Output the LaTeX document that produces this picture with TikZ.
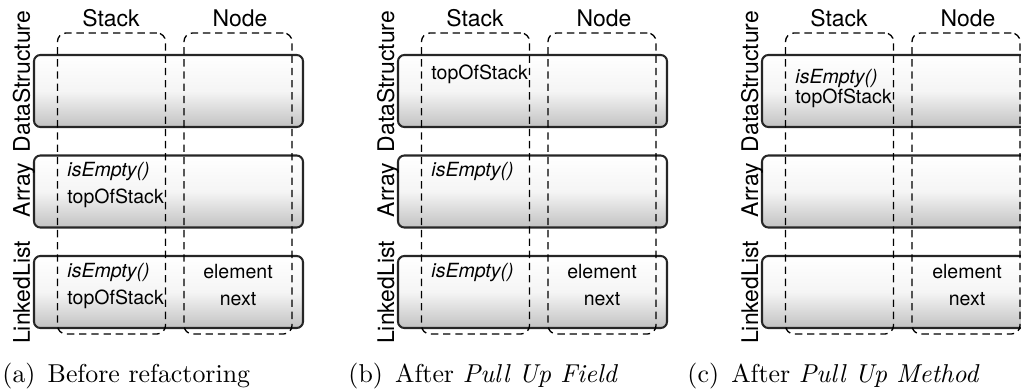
\documentclass[tikz,border=0pt]{standalone}
\usepackage{fontspec}
\newfontfamily\heros{TeX Gyre Heros}
\newcommand{\unitpx}{0.41pt}

\begin{document}
\begin{tikzpicture}[x=\unitpx, y=-\unitpx,
	classbar/.style={draw=black!85, line width=0.85pt, rounded corners=2.6pt, top color=white, bottom color=black!24, middle color=black!4, minimum width=269*\unitpx, minimum height=72*\unitpx, inner sep=0pt},
	group/.style={draw, dash pattern=on 3pt off 2pt, line width=0.55pt, rounded corners=3.5pt, minimum width=108*\unitpx, minimum height=301*\unitpx, inner sep=0pt},
	head/.style={font=\heros\fontsize{9.4}{10}\selectfont, anchor=base, inner sep=0pt},
	rowlabel/.style={head, rotate=90},
	member/.style={font=\heros\fontsize{8}{9}\selectfont, inner sep=0pt},
	subcap/.style={font=\fontsize{10.6}{12}\selectfont, anchor=base west, inner sep=0pt}]
	\useasboundingbox (0,0) rectangle (1021,392);
	\foreach \p/\dx in {a/0,b/364,c/728}{
		\begin{scope}[xshift=\dx*\unitpx]
			\node[classbar] (\p-ds) at (168.5,91) {};
			\node[classbar] (\p-arr) at (168.5,191.5) {};
			\node[classbar] (\p-ll) at (168.5,292) {};
			\node[group] (\p-stack) at (111.5,183.5) {};
			\node[group] (\p-node) at (238,183.5) {};
			\node[head] (\p-stackhead) at (111,27) {Stack};
			\node[head] (\p-nodehead) at (240,27) {Node};
			\node[rowlabel] (\p-dslabel) at (30,81.5) {DataStructure};
			\node[rowlabel] (\p-arrlabel) at (30,190) {Array};
			\node[rowlabel] (\p-lllabel) at (30,292.5) {LinkedList};
		\end{scope}
	}
	% (a)
	\node[member, anchor=base west] (a-arr-empty) at (67,177) {\itshape isEmpty()};
	\node[member, anchor=base west] (a-arr-top) at (67,204) {topOfStack};
	\node[member, anchor=base west] (a-ll-empty) at (67,277) {\itshape isEmpty()};
	\node[member, anchor=base west] (a-ll-top) at (67,304) {topOfStack};
	\node[member, anchor=base] (a-ll-elem) at (238,278) {element};
	\node[member, anchor=base] (a-ll-next) at (238,305) {next};
	\node[subcap] (a-cap) at (2,382) {(a)\hspace{5pt}Before refactoring};
	% (b)
	\node[member, anchor=base west] (b-ds-top) at (431,80) {topOfStack};
	\node[member, anchor=base west] (b-arr-empty) at (431,177) {\itshape isEmpty()};
	\node[member, anchor=base west] (b-ll-empty) at (431,277) {\itshape isEmpty()};
	\node[member, anchor=base] (b-ll-elem) at (602,278) {element};
	\node[member, anchor=base] (b-ll-next) at (602,305) {next};
	\node[subcap] (b-cap) at (348,382) {(b)\hspace{5pt}After \textit{Pull Up Field}};
	% (c)
	\node[member, anchor=base west] (c-ds-empty) at (795,84) {\itshape isEmpty()};
	\node[member, anchor=base west] (c-ds-top) at (795,104) {topOfStack};
	\node[member, anchor=base] (c-ll-elem) at (967,278) {element};
	\node[member, anchor=base] (c-ll-next) at (967,305) {next};
	\node[subcap] (c-cap) at (687,382) {(c)\hspace{5pt}After \textit{Pull Up Method}};
\end{tikzpicture}
\end{document}
